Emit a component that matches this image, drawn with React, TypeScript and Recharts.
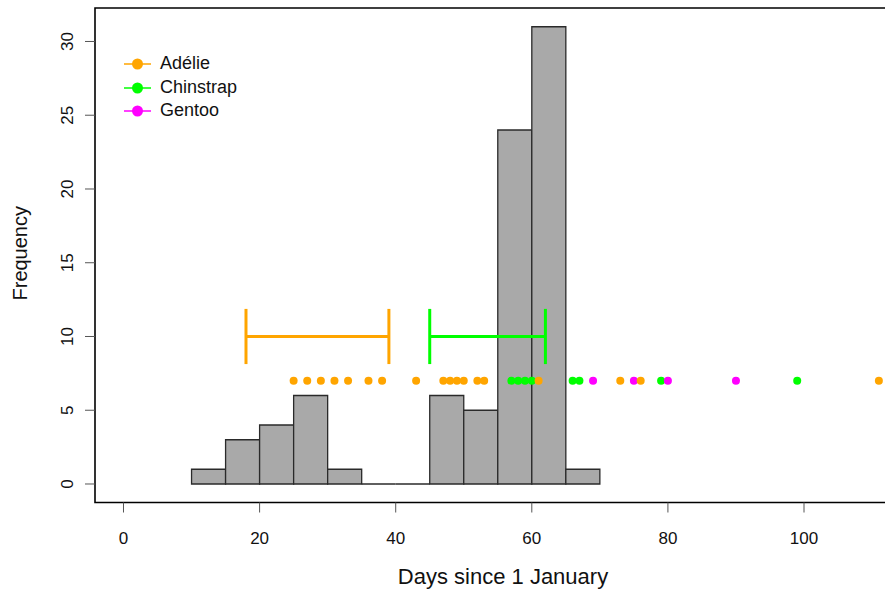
import {
  ComposedChart,
  XAxis,
  YAxis,
  Scatter,
  ReferenceArea,
  ReferenceLine,
} from "recharts";

// histogram of laying dates (5-day bins)
const binStarts = [10, 15, 20, 25, 30, 35, 40, 45, 50, 55, 60, 65];
const binCounts = [1, 3, 4, 6, 1, 0, 0, 6, 5, 24, 31, 1];
const binWidth = 5;

// individual observations per species, shown as a strip of dots
const adelieDays = [25, 27, 29, 31, 33, 36, 38, 43, 47, 48, 49, 50, 52, 53, 61, 73, 76, 111];
const chinstrapDays = [57, 58, 59, 60, 66, 67, 79, 99];
const gentooDays = [69, 75, 80, 90];

// interval bars
const adelieRange = [18, 39];
const chinstrapRange = [45, 62];

const stripLevel = 7;
const rangeLevel = 10;
const capHalf = 1.87;

const xTicks = [0, 20, 40, 60, 80, 100];
const yTicks = [0, 5, 10, 15, 20, 25, 30];
const xDomain = [-4.188, 114.84];
const yDomain = [-1.255, 32.27];

const species = [
  { name: "Adélie", color: "#FFA500", days: adelieDays, range: adelieRange },
  { name: "Chinstrap", color: "#00FF00", days: chinstrapDays, range: chinstrapRange },
  { name: "Gentoo", color: "#FF00FF", days: gentooDays, range: null as number[] | null },
];

// dots are drawn green, then magenta, then orange on top
const drawOrder = [1, 2, 0];

const FONT = "'Liberation Sans', Arial, sans-serif";

const XTick = ({ x, y, payload }: any) => (
  <text x={x} y={y} dy="0.71em" textAnchor="middle" fontSize={17} fill="#111" fontFamily={FONT}>
    {payload.value}
  </text>
);

const YTick = ({ x, y, payload }: any) => (
  <text
    x={x}
    y={y}
    transform={`rotate(-90 ${x} ${y})`}
    textAnchor="middle"
    fontSize={17}
    fill="#111"
    fontFamily={FONT}
  >
    {payload.value}
  </text>
);

const dot = (color: string) => (props: any) =>
  <circle cx={props.cx} cy={props.cy} r={4} fill={color} />;

export default function App() {
  return (
    <div
      style={{
        position: "fixed",
        left: 0,
        top: 0,
        width: 885,
        height: 592,
        overflow: "hidden",
        background: "#fff",
        fontFamily: FONT,
      }}
    >
      <ComposedChart width={920} height={592} margin={{ top: 8, right: 15, bottom: 0, left: 0 }}>
        <XAxis
          type="number"
          dataKey="day"
          domain={xDomain}
          allowDataOverflow
          ticks={xTicks}
          height={89.5}
          axisLine={false}
          tickLine={{ stroke: "#555" }}
          tickSize={10}
          tickMargin={19.5}
          tick={<XTick />}
          label={{
            content: ({ viewBox }: any) => (
              <text
                x={viewBox.x + viewBox.width / 2 + 3}
                y={584}
                textAnchor="middle"
                fontSize={22}
                fill="#111"
                fontFamily={FONT}
              >
                Days since 1 January
              </text>
            ),
          }}
        />
        <YAxis
          type="number"
          dataKey="y"
          domain={yDomain}
          allowDataOverflow
          ticks={yTicks}
          width={95}
          axisLine={false}
          tickLine={{ stroke: "#555" }}
          tickSize={10}
          tickMargin={12}
          tick={<YTick />}
          label={{
            content: ({ viewBox }: any) => {
              const cy = viewBox.y + viewBox.height / 2 - 2;
              return (
                <text
                  x={27}
                  y={cy}
                  transform={`rotate(-90 27 ${cy})`}
                  textAnchor="middle"
                  fontSize={20}
                  fill="#111"
                  fontFamily={FONT}
                >
                  Frequency
                </text>
              );
            },
          }}
        />

        {binStarts.map((lo, i) =>
          binCounts[i] > 0 ? (
            <ReferenceArea
              key={`bin-${lo}`}
              x1={lo}
              x2={lo + binWidth}
              y1={0}
              y2={binCounts[i]}
              fill="#A9A9A9"
              fillOpacity={1}
              stroke="#2a2a2a"
              strokeWidth={1.3}
            />
          ) : (
            <ReferenceLine
              key={`bin-${lo}`}
              segment={[
                { x: lo, y: 0 },
                { x: lo + binWidth, y: 0 },
              ]}
              stroke="#2a2a2a"
              strokeWidth={1.3}
            />
          )
        )}

        {species.map((s) =>
          s.range
            ? [
                <ReferenceLine
                  key={`${s.name}-bar`}
                  segment={[
                    { x: s.range[0], y: rangeLevel },
                    { x: s.range[1], y: rangeLevel },
                  ]}
                  stroke={s.color}
                  strokeWidth={3}
                />,
                ...s.range.map((v) => (
                  <ReferenceLine
                    key={`${s.name}-cap-${v}`}
                    segment={[
                      { x: v, y: rangeLevel - capHalf },
                      { x: v, y: rangeLevel + capHalf },
                    ]}
                    stroke={s.color}
                    strokeWidth={3}
                  />
                )),
              ]
            : null
        )}

        {drawOrder.map((idx) => {
          const s = species[idx];
          return (
            <Scatter
              key={s.name}
              name={s.name}
              data={s.days.map((d) => ({ day: d, y: stripLevel }))}
              fill={s.color}
              shape={dot(s.color)}
              isAnimationActive={false}
            />
          );
        })}

        {/* plot frame */}
        <ReferenceArea
          x1={xDomain[0]}
          x2={xDomain[1]}
          y1={yDomain[0]}
          y2={yDomain[1]}
          fill="none"
          stroke="#000"
          strokeWidth={1.6}
          ifOverflow="visible"
        />
      </ComposedChart>

      <div style={{ position: "absolute", left: 124, top: 52.25 }}>
        {species.map((s) => (
          <div
            key={s.name}
            style={{ display: "flex", alignItems: "center", height: 23.5 }}
          >
            <svg width={27} height={14} style={{ display: "block" }}>
              <line x1={0} y1={7} x2={27} y2={7} stroke={s.color} strokeWidth={1.5} />
              <circle cx={13.5} cy={7} r={5.5} fill={s.color} />
            </svg>
            <span style={{ marginLeft: 9, fontSize: 18, color: "#111", lineHeight: "23.5px" }}>
              {s.name}
            </span>
          </div>
        ))}
      </div>
    </div>
  );
}
